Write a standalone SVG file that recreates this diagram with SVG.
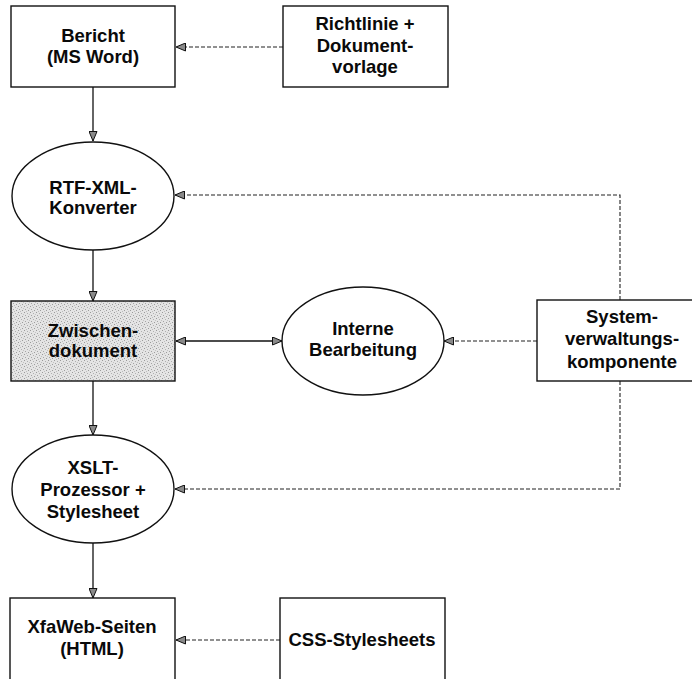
<svg xmlns="http://www.w3.org/2000/svg" width="692" height="679" viewBox="0 0 692 679">
  <defs>
    <style>
      .box { fill: #ffffff; stroke: #111111; stroke-width: 1.4; }
      .oval { fill: #ffffff; stroke: #111111; stroke-width: 1.4; }
      .lbl { font-family: "Liberation Sans", Arial, sans-serif; font-weight: bold; font-size: 18.5px; fill: #0a0a0a; text-anchor: middle; }
      .solid { fill: none; stroke: #111111; stroke-width: 1.3; }
      .dash { fill: none; stroke: #222222; stroke-width: 1.1; stroke-dasharray: 4 2; }
    </style>
    <marker id="arrow" viewBox="0 0 10 9" refX="10" refY="4.5" markerWidth="10" markerHeight="9" markerUnits="userSpaceOnUse" orient="auto-start-reverse">
      <path d="M0.5,0.5 L10,4.5 L0.5,8.5 z" fill="#8a8a8a" stroke="#111111" stroke-width="1"/>
    </marker>
    <pattern id="stipple" width="6" height="6" patternUnits="userSpaceOnUse">
      <rect width="6" height="6" fill="#e4e4e4"/>
      <rect x="0" y="0" width="1" height="1" fill="#9a9a9a"/>
      <rect x="3" y="1" width="1" height="1" fill="#b0b0b0"/>
      <rect x="1" y="3" width="1" height="1" fill="#a4a4a4"/>
      <rect x="4" y="4" width="1" height="1" fill="#9c9c9c"/>
      <rect x="5" y="2" width="1" height="1" fill="#c2c2c2"/>
      <rect x="2" y="5" width="1" height="1" fill="#bcbcbc"/>
    </pattern>
  </defs>

  <rect width="692" height="679" fill="#ffffff"/>

  <!-- connectors -->
  <g id="connectors">
    <line class="solid" x1="93" y1="87" x2="93" y2="141" marker-end="url(#arrow)"/>
    <line class="solid" x1="93" y1="250" x2="93" y2="301" marker-end="url(#arrow)"/>
    <line class="solid" x1="93" y1="381" x2="93" y2="435" marker-end="url(#arrow)"/>
    <line class="solid" x1="93" y1="543" x2="93" y2="598" marker-end="url(#arrow)"/>
    <line class="solid" x1="176" y1="341" x2="282" y2="341" marker-start="url(#arrow)" marker-end="url(#arrow)"/>
    <line class="dash" x1="283" y1="47" x2="176" y2="47" marker-end="url(#arrow)"/>
    <line class="dash" x1="537" y1="341" x2="444" y2="341" marker-end="url(#arrow)"/>
    <path class="dash" d="M620,300 V195 H175" marker-end="url(#arrow)"/>
    <path class="dash" d="M620,381 V489 H175" marker-end="url(#arrow)"/>
    <line class="dash" x1="280" y1="640" x2="176" y2="640" marker-end="url(#arrow)"/>
  </g>

  <g id="bericht">
    <rect class="box" x="11" y="6" width="164" height="81"/>
    <text class="lbl" x="93" y="42">Bericht</text>
    <text class="lbl" x="93" y="63">(MS Word)</text>
  </g>

  <g id="richtlinie">
    <rect class="box" x="283" y="6" width="165" height="81"/>
    <text class="lbl" x="365" y="30">Richtlinie +</text>
    <text class="lbl" x="365" y="52">Dokument-</text>
    <text class="lbl" x="365" y="73">vorlage</text>
  </g>

  <g id="rtf-xml-konverter">
    <ellipse class="oval" cx="93" cy="196" rx="81" ry="54"/>
    <text class="lbl" x="93" y="194">RTF-XML-</text>
    <text class="lbl" x="93" y="214">Konverter</text>
  </g>

  <g id="zwischendokument">
    <rect x="11" y="301" width="164" height="80" fill="url(#stipple)" stroke="#111111" stroke-width="1.4"/>
    <text class="lbl" x="93" y="337">Zwischen-</text>
    <text class="lbl" x="93" y="357">dokument</text>
  </g>

  <g id="interne-bearbeitung">
    <ellipse class="oval" cx="363" cy="341" rx="81" ry="54"/>
    <text class="lbl" x="363" y="335">Interne</text>
    <text class="lbl" x="363" y="356">Bearbeitung</text>
  </g>

  <g id="systemverwaltung">
    <rect class="box" x="537" y="300" width="170" height="81"/>
    <text class="lbl" x="622" y="323">System-</text>
    <text class="lbl" x="622" y="345">verwaltungs-</text>
    <text class="lbl" x="622" y="368">komponente</text>
  </g>

  <g id="xslt-prozessor">
    <ellipse class="oval" cx="93" cy="489" rx="81" ry="54"/>
    <text class="lbl" x="93" y="474">XSLT-</text>
    <text class="lbl" x="93" y="496">Prozessor +</text>
    <text class="lbl" x="93" y="518">Stylesheet</text>
  </g>

  <g id="xfaweb-seiten">
    <rect class="box" x="10" y="598" width="165" height="100"/>
    <text class="lbl" x="92" y="633">XfaWeb-Seiten</text>
    <text class="lbl" x="92" y="655">(HTML)</text>
  </g>

  <g id="css-stylesheets">
    <rect class="box" x="280" y="598" width="165" height="100"/>
    <text class="lbl" x="362" y="646">CSS-Stylesheets</text>
  </g>
</svg>
